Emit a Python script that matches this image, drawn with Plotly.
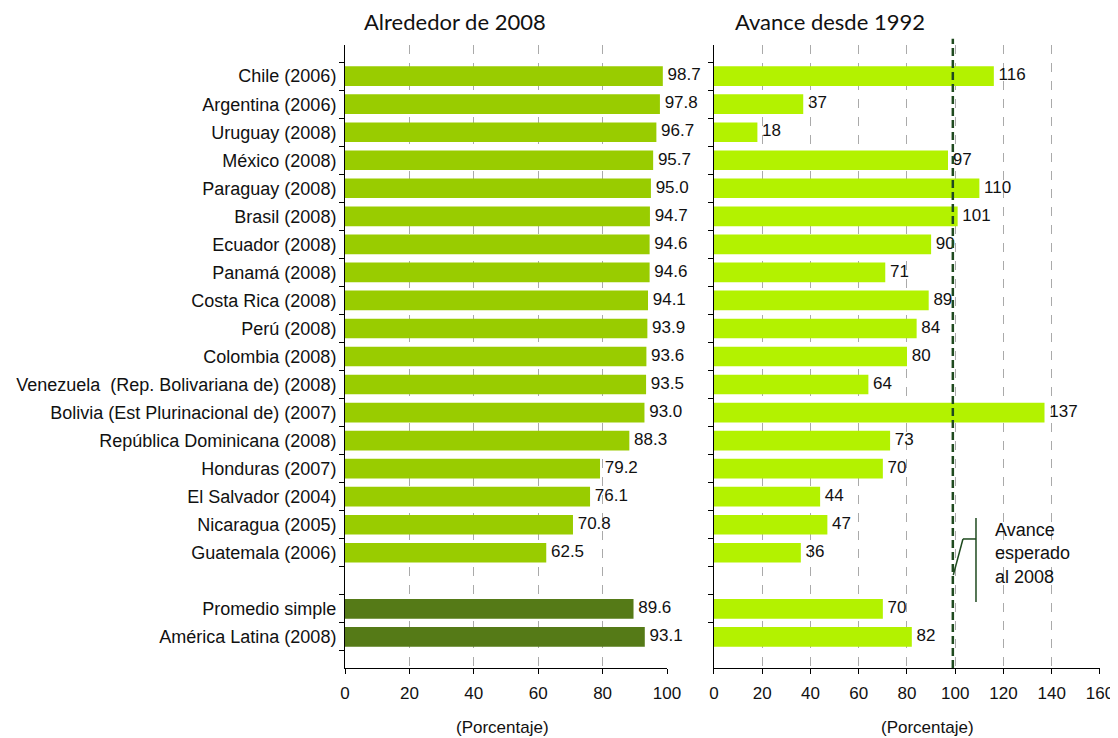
import plotly.graph_objects as go

categories = ["Chile (2006)", "Argentina (2006)", "Uruguay (2008)", "México (2008)",
              "Paraguay (2008)", "Brasil (2008)", "Ecuador (2008)", "Panamá (2008)",
              "Costa Rica (2008)", "Perú (2008)", "Colombia (2008)",
              "Venezuela  (Rep. Bolivariana de) (2008)",
              "Bolivia (Est Plurinacional de) (2007)", "República Dominicana (2008)",
              "Honduras (2007)", "El Salvador (2004)", "Nicaragua (2005)",
              "Guatemala (2006)", " ", "Promedio simple", "América Latina (2008)"]
nivel_2008 = [98.7, 97.8, 96.7, 95.7, 95.0, 94.7, 94.6, 94.6, 94.1, 93.9, 93.6, 93.5,
              93.0, 88.3, 79.2, 76.1, 70.8, 62.5, None, 89.6, 93.1]
avance_1992 = [116, 37, 18, 97, 110, 101, 90, 71, 89, 84, 80, 64, 137, 73, 70, 44, 47,
               36, None, 70, 82]
avance_esperado = 99
left_ticks = [0, 20, 40, 60, 80, 100]
right_ticks = [0, 20, 40, 60, 80, 100, 120, 140, 160]

FONT = "Liberation Sans, Arial, sans-serif"
TFONT = "Lato, Carlito, Calibri, sans-serif"
agg = {"Promedio simple", "América Latina (2008)"}
left_colors = ["#557A17" if c in agg else "#99CC00" for c in categories]
tick_text = [c.replace("  ", "&nbsp; ") for c in categories]

fig = go.Figure()
fig.add_trace(go.Bar(y=categories, x=nivel_2008, orientation="h",
                     marker=dict(color=left_colors, line=dict(width=0)),
                     xaxis="x", yaxis="y", showlegend=False, hoverinfo="x+y"))
fig.add_trace(go.Scatter(y=categories, x=nivel_2008, mode="text",
                         text=[(" %.1f" % v) if v is not None else "" for v in nivel_2008],
                         textposition="middle right",
                         textfont=dict(family=FONT, size=17, color="#111"),
                         xaxis="x", yaxis="y", showlegend=False, cliponaxis=False,
                         hoverinfo="skip"))
fig.add_trace(go.Bar(y=categories, x=avance_1992, orientation="h",
                     marker=dict(color="#B3F200", line=dict(width=0)),
                     xaxis="x2", yaxis="y2", showlegend=False, hoverinfo="x+y"))
fig.add_trace(go.Scatter(y=categories, x=avance_1992, mode="text",
                         text=[(" %d" % v) if v is not None else "" for v in avance_1992],
                         textposition="middle right",
                         textfont=dict(family=FONT, size=17, color="#111"),
                         xaxis="x2", yaxis="y2", showlegend=False, cliponaxis=False,
                         hoverinfo="skip"))

ax_common = dict(showgrid=True, gridcolor="#AAAAAA", griddash="dash", gridwidth=1,
                 showline=True, linecolor="#000", linewidth=1, ticks="outside",
                 ticklen=5, tickcolor="#000", zeroline=False, automargin=False,
                 ticklabeloverflow="allow", ticklabelstandoff=5,
                 tickfont=dict(family=FONT, size=17, color="#111"))
fig.update_layout(
    width=1110, height=730,
    margin=dict(l=337, r=18, t=37, b=70),
    paper_bgcolor="white", plot_bgcolor="white",
    bargap=0.3,
    xaxis=dict(domain=[0, 0.4265], range=[0, 100], tickvals=left_ticks, **ax_common),
    xaxis2=dict(domain=[0.4887, 1.0], range=[0, 160], tickvals=right_ticks, **ax_common),
    yaxis=dict(anchor="x", autorange="reversed", type="category", tickson="boundaries",
               ticks="outside", ticklen=5, tickcolor="#000", showline=True,
               linecolor="#000", linewidth=1, showgrid=False, automargin=False,
               tickmode="array", tickvals=categories, ticktext=tick_text,
               ticklabelstandoff=4,
               tickfont=dict(family=FONT, size=18, color="#111")),
    yaxis2=dict(anchor="x2", autorange="reversed", type="category", tickson="boundaries",
                ticks="outside", ticklen=5, tickcolor="#000", showline=True,
                linecolor="#000", linewidth=1, showgrid=False, showticklabels=False,
                automargin=False, matches="y"),
)

# expected-progress line
fig.add_shape(type="line", xref="x2", yref="paper", x0=avance_esperado, x1=avance_esperado,
              y0=0, y1=1.01, line=dict(color="#1F4A1F", width=2.5, dash="8px,4px"))
# bracket callout
fig.add_shape(type="line", xref="x2", yref="paper", x0=108.6, x1=108.6, y0=0.1059, y1=0.2408,
              line=dict(color="#1F4A1F", width=1.5))
fig.add_shape(type="line", xref="x2", yref="paper", x0=108.6, x1=103.2, y0=0.2071, y1=0.2071,
              line=dict(color="#1F4A1F", width=1.5))
fig.add_shape(type="line", xref="x2", yref="paper", x0=103.2, x1=99.2, y0=0.2071, y1=0.1493,
              line=dict(color="#1F4A1F", width=1.5))
fig.add_annotation(xref="x2", yref="paper", x=115.5, y=0.183, xanchor="left", yanchor="middle",
                   text="Avance<br>esperado<br>al 2008", showarrow=False, align="left",
                   font=dict(family=FONT, size=18, color="#111"))

for x, t in [(0.1457, "Alrededor de 2008"), (0.642, "Avance desde 1992")]:
    fig.add_annotation(xref="paper", yref="paper", x=x, y=1.037, text=t,
                       xanchor="center", yanchor="middle", showarrow=False,
                       font=dict(family=TFONT, size=22, color="#111"))
for x in [0.209, 0.772]:
    fig.add_annotation(xref="paper", yref="paper", x=x, y=-0.0963, text="(Porcentaje)",
                       xanchor="center", yanchor="middle", showarrow=False,
                       font=dict(family=FONT, size=17, color="#111"))

fig.write_html("out.html")
